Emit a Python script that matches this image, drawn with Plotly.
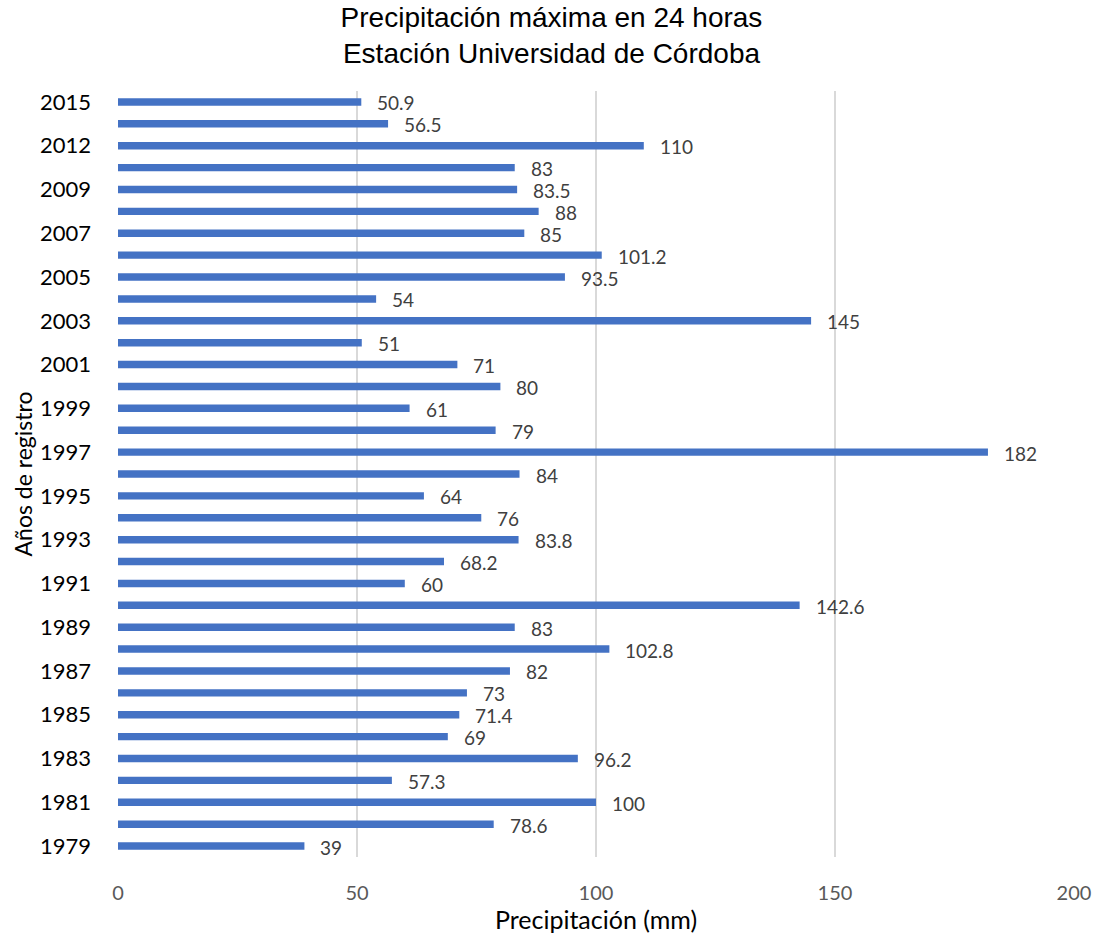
import plotly.graph_objects as go

years = [str(y) for y in range(1979, 2010)] + ["2010", "2012", "2013", "2015"]
values = [39, 78.6, 100, 57.3, 96.2, 69, 71.4, 73, 82, 102.8, 83, 142.6, 60, 68.2,
          83.8, 76, 64, 84, 182, 79, 61, 80, 71, 51, 145, 54, 93.5, 101.2, 85, 88,
          83.5, 83, 110, 56.5, 50.9]
x_ticks = [0, 50, 100, 150, 200]
tick_years = years[::2]

FONT = "Lato, Open Sans, sans-serif"

fig = go.Figure()
fig.add_trace(go.Bar(
    x=values, y=years, orientation="h",
    marker=dict(color="#4472C4", line=dict(width=0)),
    hoverinfo="x+y",
))
for i, v in enumerate(values):
    fig.add_annotation(x=v, y=i, text=f"{v:g}", showarrow=False,
                       xanchor="left", xshift=14, yshift=-1,
                       font=dict(family=FONT, size=19, color="#404040"))

fig.update_layout(
    width=1103, height=937,
    margin=dict(l=118, r=23, t=91, b=78),
    paper_bgcolor="white", plot_bgcolor="white",
    bargap=0.66,
    showlegend=False,
    title=dict(text="Precipitación máxima en 24 horas<br>Estación Universidad de Córdoba",
               x=0.5, xanchor="center", yref="container", y=0.9715, yanchor="middle",
               font=dict(family="Liberation Sans, Arial, sans-serif", size=28, color="#000000")),
    xaxis=dict(range=[0, 200], tickvals=x_ticks, showgrid=True, gridcolor="#D9D9D9",
               gridwidth=1.5, zeroline=False, showline=False, ticks="",
               ticklabelstandoff=22,
               tickfont=dict(family=FONT, size=20, color="#595959"),
               title=dict(text="Precipitación (mm)", standoff=3,
                          font=dict(family=FONT, size=25, color="#000000"))),
    yaxis=dict(type="category", categoryorder="array", categoryarray=years,
               range=[-0.5, len(years) - 0.5],
               tickvals=tick_years, ticktext=tick_years, showgrid=False,
               showline=False, ticks="", ticklabelstandoff=26,
               tickfont=dict(family=FONT, size=22, color="#000000"),
               title=dict(text="Años de registro", standoff=0,
                          font=dict(family=FONT, size=23, color="#000000"))),
)
fig.write_html("out.html")
